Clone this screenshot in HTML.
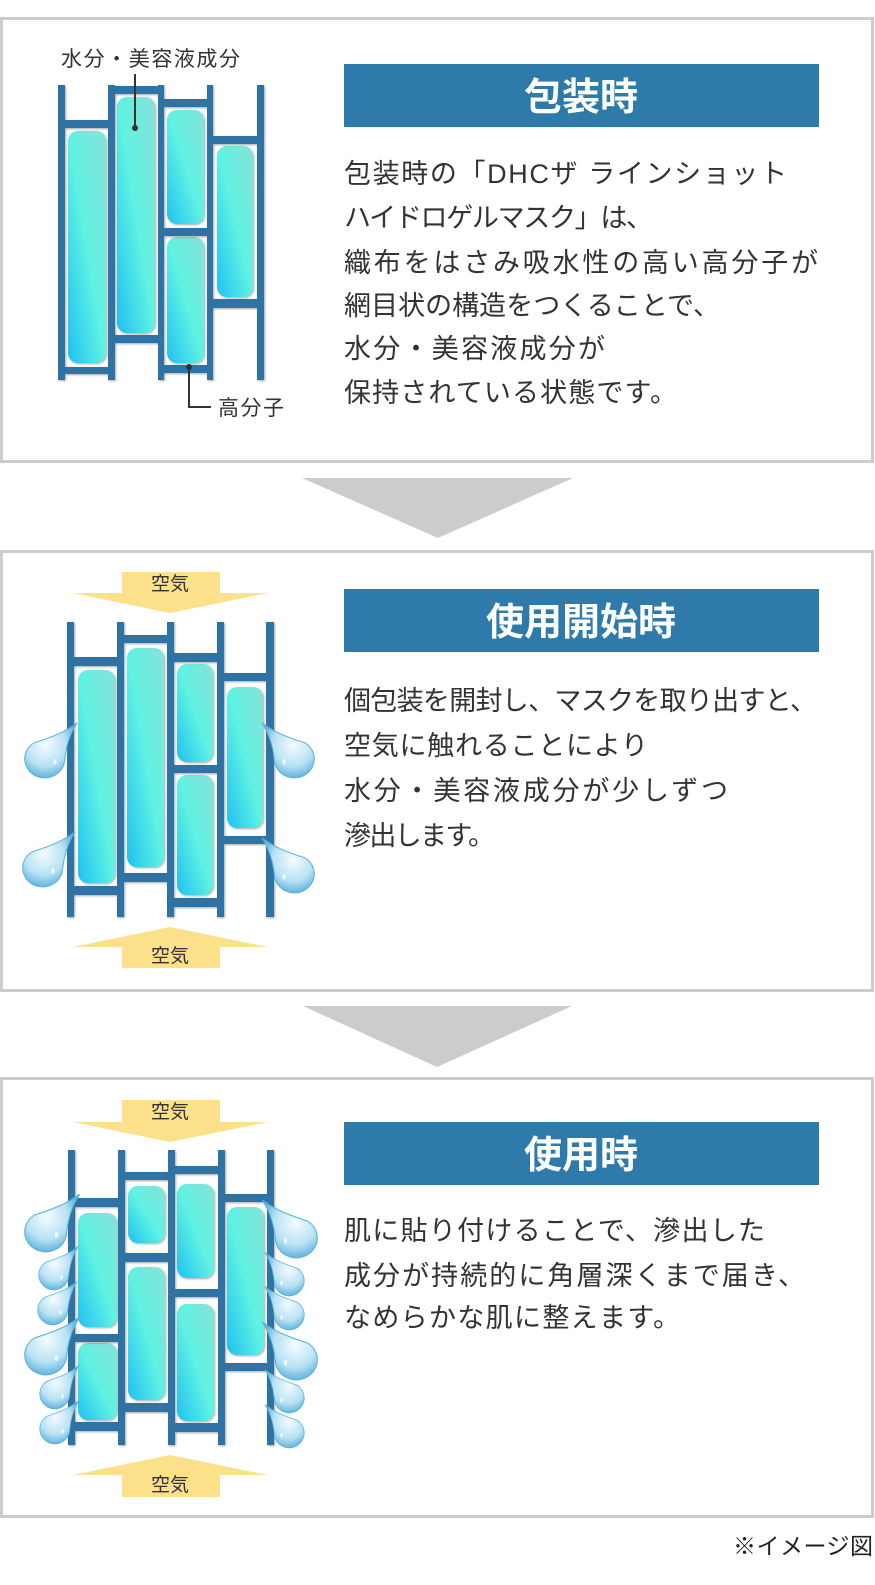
<!DOCTYPE html>
<html><head><meta charset="utf-8"><style>
html,body{margin:0;padding:0;background:#fff}
svg{display:block}
text{font-family:"Liberation Sans","Noto Sans CJK JP",sans-serif}
</style></head><body>
<svg width="875" height="1585" viewBox="0 0 875 1585" xmlns="http://www.w3.org/2000/svg">
<defs>
<linearGradient id="cap" x1="1" y1="0" x2="0" y2="1">
<stop offset="0" stop-color="#86e2d8"/><stop offset="0.5" stop-color="#5ff2e2"/><stop offset="1" stop-color="#1fc0f2"/>
</linearGradient>
<radialGradient id="drop" cx="0.4" cy="0.4" r="0.7">
<stop offset="0" stop-color="#f4fbff"/><stop offset="0.55" stop-color="#b8e2f4"/><stop offset="1" stop-color="#3d9fd2"/>
</radialGradient>
<filter id="sh" x="-20%" y="-20%" width="140%" height="140%"><feDropShadow dx="1" dy="1" stdDeviation="1" flood-color="#000" flood-opacity="0.35"/></filter>
<g id="dl"><path d="M1.6,-1.9 C1.0,-1.4 0.2,-1.1 -0.55,-0.85 A1 1 0 1 0 0.98,0.1 C1.05,-0.8 1.3,-1.4 1.6,-1.9 Z" fill="url(#drop)" stroke="#5ab0dc" stroke-width="0.05"/>
<ellipse cx="0.5" cy="0.15" rx="0.08" ry="0.15" fill="#fff" opacity="0.8"/></g>
</defs>

<rect x="1.5" y="18.5" width="871" height="443" fill="#fff" stroke="#cccccc" stroke-width="3"/>
<rect x="1.5" y="551.5" width="871" height="439" fill="#fff" stroke="#cccccc" stroke-width="3"/>
<rect x="1.5" y="1078.5" width="871" height="438" fill="#fff" stroke="#cccccc" stroke-width="3"/>
<polygon points="302,478 573,478 438,538" fill="#cccccc"/>
<polygon points="303,1006 572,1006 437,1067" fill="#cccccc"/>

<rect x="344" y="64" width="475" height="63" fill="#2e7bab"/>
<text x="581" y="110" font-size="38" font-weight="bold" fill="#fff" text-anchor="middle">包装時</text>
<rect x="344" y="589" width="475" height="63" fill="#2e7bab"/>
<text x="581" y="635" font-size="38" font-weight="bold" fill="#fff" text-anchor="middle">使用開始時</text>
<rect x="344" y="1122" width="475" height="63" fill="#2e7bab"/>
<text x="581" y="1168" font-size="38" font-weight="bold" fill="#fff" text-anchor="middle">使用時</text>

<g font-size="27" fill="#333">
<text x="344" y="183" textLength="443">包装時の「DHCザ ラインショット</text>
<text x="344" y="227" textLength="309">ハイドロゲルマスク」は、</text>
<text x="344" y="272" textLength="474">織布をはさみ吸水性の高い高分子が</text>
<text x="344" y="315" textLength="376">網目状の構造をつくることで、</text>
<text x="344" y="358" textLength="261">水分・美容液成分が</text>
<text x="344" y="402" textLength="333">保持されている状態です。</text>
<text x="344" y="710" textLength="473">個包装を開封し、マスクを取り出すと、</text>
<text x="344" y="755" textLength="304">空気に触れることにより</text>
<text x="344" y="800" textLength="384">水分・美容液成分が少しずつ</text>
<text x="344" y="845" textLength="151">滲出します。</text>
<text x="344" y="1240" textLength="421">肌に貼り付けることで、滲出した</text>
<text x="344" y="1285" textLength="461">成分が持続的に角層深くまで届き、</text>
<text x="344" y="1327" textLength="336">なめらかな肌に整えます。</text>
</g>
<text x="733" y="1554" font-size="23" fill="#222" textLength="140">※イメージ図</text>

<!-- diagram 1 -->
<g fill="url(#cap)" filter="url(#sh)">
<rect x="68" y="131" width="38" height="232" rx="10"/>
<rect x="117" y="97" width="38" height="236" rx="10"/>
<rect x="167" y="110" width="37" height="114" rx="10"/>
<rect x="167" y="237" width="37" height="126" rx="10"/>
<rect x="217" y="146" width="36" height="151" rx="10"/>
</g>
<g fill="#2e73a3" filter="url(#sh)">
<rect x="58" y="85" width="7" height="295"/><rect x="108" y="85" width="7" height="295"/>
<rect x="158" y="85" width="6" height="295"/><rect x="207" y="85" width="6" height="295"/>
<rect x="257" y="85" width="7" height="295"/>
<rect x="65" y="120" width="43" height="8"/><rect x="62" y="367" width="49" height="7"/>
<rect x="115" y="86" width="43" height="8"/><rect x="115" y="335" width="43" height="8"/>
<rect x="164" y="99" width="43" height="8"/><rect x="164" y="228" width="43" height="8"/><rect x="162" y="365" width="50" height="8"/>
<rect x="213" y="136" width="44" height="8"/><rect x="213" y="299" width="44" height="9"/>
</g>
<text x="61" y="66" font-size="21" fill="#333" textLength="179">水分・美容液成分</text>
<line x1="135" y1="74" x2="135" y2="128" stroke="#333" stroke-width="2"/><circle cx="135" cy="128" r="3" fill="#333"/>
<polyline points="189,367 189,407 211,407" fill="none" stroke="#333" stroke-width="2"/><circle cx="189" cy="367" r="3" fill="#333"/>
<text x="218" y="415" font-size="21" fill="#333" textLength="66">高分子</text>

<!-- diagram 2 -->
<g fill="#fde08a">
<rect x="122" y="572" width="98" height="21"/><polygon points="73,593 268,593 170,613"/>
<polygon points="73,947 268,947 170,927"/><rect x="122" y="947" width="98" height="21"/>
</g>
<text x="170" y="590" font-size="19" fill="#333" text-anchor="middle">空気</text>
<text x="170" y="962" font-size="19" fill="#333" text-anchor="middle">空気</text>
<g fill="url(#cap)" filter="url(#sh)">
<rect x="78" y="670" width="37" height="213" rx="10"/>
<rect x="127" y="648" width="37" height="219" rx="10"/>
<rect x="177" y="664" width="36" height="98" rx="10"/>
<rect x="177" y="775" width="36" height="120" rx="10"/>
<rect x="227" y="687" width="36" height="141" rx="10"/>
</g>
<g fill="#2e73a3" filter="url(#sh)">
<rect x="67" y="622" width="7" height="295"/><rect x="117" y="622" width="7" height="295"/>
<rect x="167" y="622" width="7" height="295"/><rect x="217" y="622" width="7" height="295"/>
<rect x="266" y="622" width="8" height="295"/>
<rect x="74" y="657" width="43" height="9"/><rect x="72" y="886" width="48" height="9"/>
<rect x="122" y="635" width="49" height="8"/><rect x="124" y="873" width="43" height="9"/>
<rect x="174" y="653" width="43" height="9"/><rect x="174" y="765" width="43" height="8"/><rect x="172" y="898" width="48" height="9"/>
<rect x="224" y="673" width="42" height="8"/><rect x="224" y="836" width="42" height="8"/>
</g>
<use href="#dl" transform="translate(45,759) scale(20,19)"/>
<use href="#dl" transform="translate(43,868) scale(20,19)"/>
<use href="#dl" transform="translate(294,759) scale(-20,19)"/>
<use href="#dl" transform="translate(294,874) scale(-20,19)"/>

<!-- diagram 3 -->
<g fill="#fde08a">
<rect x="122" y="1100" width="98" height="22"/><polygon points="73,1122 268,1122 170,1142"/>
<polygon points="73,1475 268,1475 170,1455"/><rect x="122" y="1475" width="98" height="22"/>
</g>
<text x="170" y="1118" font-size="19" fill="#333" text-anchor="middle">空気</text>
<text x="170" y="1491" font-size="19" fill="#333" text-anchor="middle">空気</text>
<g fill="url(#cap)" filter="url(#sh)">
<rect x="78" y="1213" width="39" height="114" rx="10"/>
<rect x="78" y="1343" width="39" height="77" rx="10"/>
<rect x="128" y="1186" width="37" height="57" rx="10"/>
<rect x="128" y="1267" width="37" height="133" rx="10"/>
<rect x="177" y="1184" width="37" height="94" rx="10"/>
<rect x="177" y="1304" width="37" height="117" rx="10"/>
<rect x="227" y="1207" width="37" height="148" rx="10"/>
</g>
<g fill="#2e73a3" filter="url(#sh)">
<rect x="68" y="1150" width="7" height="295"/><rect x="118" y="1150" width="7" height="295"/>
<rect x="168" y="1150" width="7" height="295"/><rect x="218" y="1150" width="7" height="295"/>
<rect x="267" y="1150" width="7" height="295"/>
<rect x="75" y="1198" width="43" height="9"/><rect x="75" y="1334" width="43" height="8"/><rect x="72" y="1422" width="48" height="9"/>
<rect x="120" y="1172" width="49" height="8"/><rect x="122" y="1253" width="49" height="9"/><rect x="122" y="1403" width="48" height="9"/>
<rect x="172" y="1166" width="49" height="8"/><rect x="174" y="1289" width="48" height="8"/><rect x="172" y="1423" width="48" height="9"/>
<rect x="223" y="1194" width="48" height="8"/><rect x="221" y="1363" width="48" height="8"/>
</g>
<use href="#dl" transform="translate(46,1232) scale(21,20)"/>
<use href="#dl" transform="translate(54,1275) scale(15)"/>
<use href="#dl" transform="translate(53,1310) scale(15)"/>
<use href="#dl" transform="translate(46,1355) scale(21,20)"/>
<use href="#dl" transform="translate(55,1394) scale(15)"/>
<use href="#dl" transform="translate(55,1429) scale(15)"/>
<use href="#dl" transform="translate(296,1238) scale(-21,20)"/>
<use href="#dl" transform="translate(289,1281) scale(-15,15)"/>
<use href="#dl" transform="translate(289,1315) scale(-15,15)"/>
<use href="#dl" transform="translate(296,1360) scale(-21,20)"/>
<use href="#dl" transform="translate(289,1398) scale(-15,15)"/>
<use href="#dl" transform="translate(289,1433) scale(-15,15)"/>
</svg>
</body></html>
